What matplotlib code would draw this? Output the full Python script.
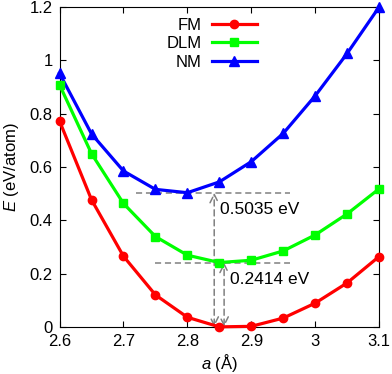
import matplotlib
matplotlib.use("Agg")
import matplotlib.pyplot as plt
from matplotlib.ticker import FormatStrFormatter

plt.rcParams['font.family'] = ['Liberation Sans', 'DejaVu Sans']
plt.rcParams['font.size'] = 12
plt.rcParams['mathtext.fontset'] = 'custom'
plt.rcParams['mathtext.it'] = 'Liberation Sans:italic'
plt.rcParams['mathtext.rm'] = 'Liberation Sans'

# lattice constant (Angstrom)
a = [2.6, 2.65, 2.7, 2.75, 2.8, 2.85, 2.9, 2.95, 3.0, 3.05, 3.1]

# energies (eV/atom)
fm = [0.772, 0.477, 0.265, 0.120, 0.036, 0.0, 0.002, 0.033, 0.089, 0.165, 0.264]
dlm = [0.908, 0.650, 0.463, 0.339, 0.269, 0.2414, 0.250, 0.285, 0.345, 0.424, 0.518]
nm = [0.951, 0.724, 0.585, 0.516, 0.5035, 0.544, 0.620, 0.726, 0.867, 1.026, 1.200]

gap_nm = 0.5035
gap_dlm = 0.2414

fig = plt.figure(figsize=(3.92, 3.74), dpi=100)
ax = fig.add_axes([0.152, 0.126, 0.815, 0.855])

ax.plot(a, fm, color='#ff0000', lw=2.3, marker='o', ms=6, label='FM', clip_on=False, zorder=5)
ax.plot(a, dlm, color='#00ff00', lw=2.3, marker='s', ms=6, label='DLM', clip_on=False, zorder=4)
ax.plot(a, nm, color='#0000ff', lw=2.3, marker='^', ms=7, label='NM', clip_on=False, zorder=3)

# guide lines for energy differences
dash = dict(color='gray', lw=1.1, ls=(0, (4, 2.5)))
ax.plot([2.72, 2.96], [gap_nm, gap_nm], **dash, zorder=2)
ax.plot([2.749, 2.96], [gap_dlm, gap_dlm], **dash, zorder=2)
arr = dict(arrowstyle='<->,head_length=0.5,head_width=0.25', color='gray', lw=1.1,
           ls=(0, (4, 2.5)), shrinkA=0, shrinkB=0)
ax.annotate('', xy=(2.842, gap_nm), xytext=(2.842, 0), arrowprops=arr, zorder=2)
ax.annotate('', xy=(2.8575, gap_dlm), xytext=(2.8575, 0), arrowprops=arr, zorder=2)
ax.text(2.851, 0.44, '%.4f eV' % gap_nm, va='center', ha='left', fontsize=12.5)
ax.text(2.867, 0.179, '%.4f eV' % gap_dlm, va='center', ha='left', fontsize=12.5)

ax.set_xlim(2.6, 3.1)
ax.set_ylim(0, 1.2)
ax.set_xticks([2.6, 2.7, 2.8, 2.9, 3.0, 3.1])
ax.set_yticks([0, 0.2, 0.4, 0.6, 0.8, 1.0, 1.2])
ax.xaxis.set_major_formatter(FormatStrFormatter('%g'))
ax.yaxis.set_major_formatter(FormatStrFormatter('%g'))
ax.tick_params(direction='in', top=True, right=True, length=4.5, width=0.8, pad=5)
for s in ax.spines.values():
    s.set_linewidth(0.8)

ax.set_xlabel('$a$ (Å)', labelpad=2)
ax.set_ylabel('$E$ (eV/atom)', labelpad=6)

ax.legend(loc='upper right', bbox_to_anchor=(0.672, 0.970), bbox_transform=fig.transFigure,
          markerfirst=False, frameon=False, handlelength=2.7, handletextpad=0.6,
          labelspacing=0.2, borderaxespad=0, borderpad=0.4)

fig.savefig('out.png', dpi=100)
